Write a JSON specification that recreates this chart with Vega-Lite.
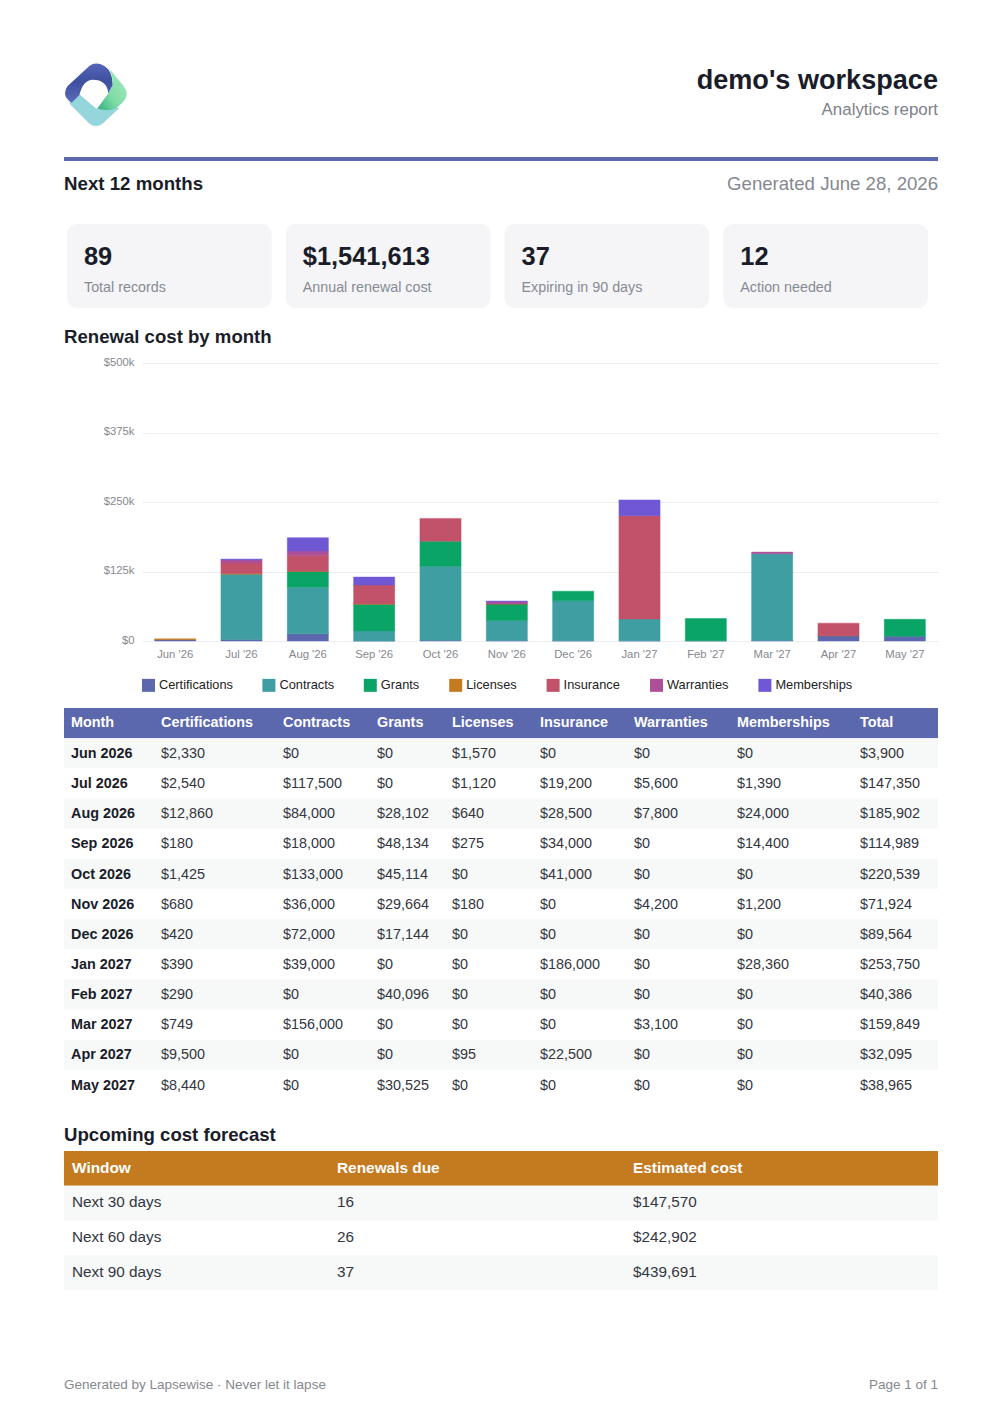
{
  "$schema": "https://vega.github.io/schema/vega-lite/v6.json",
  "padding": {"left": 62, "top": 0, "right": 62, "bottom": 0},
  "spacing": 0,
  "bounds": "flush",
  "config": {
    "font": "Liberation Sans",
    "view": {"stroke": null},
    "text": {"baseline": "middle", "align": "left"}
  },
  "datasets": {
    "months": [
      {"Month": "Jun 2026", "short": "Jun '26", "Certifications": 2330, "Contracts": 0, "Grants": 0, "Licenses": 1570, "Insurance": 0, "Warranties": 0, "Memberships": 0, "Total": 3900},
      {"Month": "Jul 2026", "short": "Jul '26", "Certifications": 2540, "Contracts": 117500, "Grants": 0, "Licenses": 1120, "Insurance": 19200, "Warranties": 5600, "Memberships": 1390, "Total": 147350},
      {"Month": "Aug 2026", "short": "Aug '26", "Certifications": 12860, "Contracts": 84000, "Grants": 28102, "Licenses": 640, "Insurance": 28500, "Warranties": 7800, "Memberships": 24000, "Total": 185902},
      {"Month": "Sep 2026", "short": "Sep '26", "Certifications": 180, "Contracts": 18000, "Grants": 48134, "Licenses": 275, "Insurance": 34000, "Warranties": 0, "Memberships": 14400, "Total": 114989},
      {"Month": "Oct 2026", "short": "Oct '26", "Certifications": 1425, "Contracts": 133000, "Grants": 45114, "Licenses": 0, "Insurance": 41000, "Warranties": 0, "Memberships": 0, "Total": 220539},
      {"Month": "Nov 2026", "short": "Nov '26", "Certifications": 680, "Contracts": 36000, "Grants": 29664, "Licenses": 180, "Insurance": 0, "Warranties": 4200, "Memberships": 1200, "Total": 71924},
      {"Month": "Dec 2026", "short": "Dec '26", "Certifications": 420, "Contracts": 72000, "Grants": 17144, "Licenses": 0, "Insurance": 0, "Warranties": 0, "Memberships": 0, "Total": 89564},
      {"Month": "Jan 2027", "short": "Jan '27", "Certifications": 390, "Contracts": 39000, "Grants": 0, "Licenses": 0, "Insurance": 186000, "Warranties": 0, "Memberships": 28360, "Total": 253750},
      {"Month": "Feb 2027", "short": "Feb '27", "Certifications": 290, "Contracts": 0, "Grants": 40096, "Licenses": 0, "Insurance": 0, "Warranties": 0, "Memberships": 0, "Total": 40386},
      {"Month": "Mar 2027", "short": "Mar '27", "Certifications": 749, "Contracts": 156000, "Grants": 0, "Licenses": 0, "Insurance": 0, "Warranties": 3100, "Memberships": 0, "Total": 159849},
      {"Month": "Apr 2027", "short": "Apr '27", "Certifications": 9500, "Contracts": 0, "Grants": 0, "Licenses": 95, "Insurance": 22500, "Warranties": 0, "Memberships": 0, "Total": 32095},
      {"Month": "May 2027", "short": "May '27", "Certifications": 8440, "Contracts": 0, "Grants": 30525, "Licenses": 0, "Insurance": 0, "Warranties": 0, "Memberships": 0, "Total": 38965}
    ],
    "columns": [
      {"col": "Month", "order": 0},
      {"col": "Certifications", "order": 1},
      {"col": "Contracts", "order": 2},
      {"col": "Grants", "order": 3},
      {"col": "Licenses", "order": 4},
      {"col": "Insurance", "order": 5},
      {"col": "Warranties", "order": 6},
      {"col": "Memberships", "order": 7},
      {"col": "Total", "order": 8}
    ],
    "forecast": [
      {"Window": "Next 30 days", "Renewals due": 16, "Estimated cost": 147570},
      {"Window": "Next 60 days", "Renewals due": 26, "Estimated cost": 242902},
      {"Window": "Next 90 days", "Renewals due": 37, "Estimated cost": 439691}
    ],
    "forecastColumns": [
      {"col": "Window", "order": 0},
      {"col": "Renewals due", "order": 1},
      {"col": "Estimated cost", "order": 2}
    ],
    "cards": [
      {"value": "89", "label": "Total records"},
      {"value": "$1,541,613", "label": "Annual renewal cost"},
      {"value": "37", "label": "Expiring in 90 days"},
      {"value": "12", "label": "Action needed"}
    ],
    "logo": [{"side": 1, "line": 1}]
  },
  "vconcat": [
    {
      "width": 874,
      "height": 224,
      "encoding": {
        "x": {"field": "side", "type": "quantitative", "axis": null, "scale": {"domain": [0, 1, 2], "range": [0, 32, 874]}},
        "y": {"field": "line", "type": "quantitative", "axis": null, "scale": {"domain": [0, 1, 2, 3, 4], "range": [80.5, 95, 110, 159, 183.5]}}
      },
      "layer": [
        {
          "data": {"name": "logo"},
          "mark": {"type": "point", "filled": true, "opacity": 1, "size": 16384, "color": "#94d6dc",
            "shape": "M-.26,-.01 L0,.21 L.37,.2 L.1,.45 Q0,.52 -.1,.45 L-.42,.13Z"}
        },
        {
          "data": {"name": "logo"},
          "mark": {"type": "point", "filled": true, "opacity": 1, "size": 16384,
            "color": {"gradient": "linear", "x1": 0, "y1": 1, "x2": 1, "y2": 0, "stops": [{"offset": 0, "color": "#2fae7e"}, {"offset": 0.4, "color": "#7fdca6"}, {"offset": 1, "color": "#a6ecc0"}]},
            "shape": "M.2,-.42 L.43,-.14 Q.53,-.02 .43,.1 L.33,.2 Q.2,.27 .02,.21 L.193,-.026 L.26,-.156 Q.27,-.3 .2,-.42Z"}
        },
        {
          "data": {"name": "logo"},
          "mark": {"type": "point", "filled": true, "opacity": 1, "size": 16384,
            "color": {"gradient": "linear", "x1": 0, "y1": 0, "x2": 0, "y2": 1, "stops": [{"offset": 0, "color": "#5565b8"}, {"offset": 0.45, "color": "#3f509f"}, {"offset": 1, "color": "#5a6abd"}]},
            "shape": "M-.484,-.026 Q-.48,-.1 -.443,-.141 L-.104,-.453 Q0,-.53 .13,-.453 Q.26,-.38 .26,-.156 L.193,-.026 Q.17,-.24 -.05,-.24 Q-.2,-.24 -.26,0 L-.38,.12 Q-.484,.06 -.484,-.026Z"}
        },
        {
          "data": {"values": [{"side": 0, "end": 2, "line": 3}]},
          "mark": {"type": "rule", "color": "#5c68ae", "strokeWidth": 4},
          "encoding": {"x2": {"field": "end"}}
        },
        {
          "data": {"values": [{"label": "demo's workspace", "side": 2, "line": 0}]},
          "mark": {"type": "text", "align": "right", "fontSize": 27.1, "fontWeight": "bold", "color": "#1a1d29"},
          "encoding": {"text": {"field": "label"}}
        },
        {
          "data": {"values": [{"label": "Analytics report", "side": 2, "line": 2}]},
          "mark": {"type": "text", "align": "right", "fontSize": 16.9, "color": "#7d818b"},
          "encoding": {"text": {"field": "label"}}
        },
        {
          "data": {"values": [{"label": "Generated June 28, 2026", "side": 2, "line": 4}]},
          "mark": {"type": "text", "align": "right", "fontSize": 18.6, "color": "#85888f"},
          "encoding": {"text": {"field": "label"}}
        },
        {
          "data": {"values": [{"label": "Next 12 months", "side": 0, "line": 4}]},
          "mark": {"type": "text", "fontSize": 18.7, "fontWeight": "bold", "color": "#1a1d29"},
          "encoding": {"text": {"field": "label"}}
        }
      ]
    },
    {
      "width": 874,
      "height": 139,
      "data": {"name": "cards"},
      "encoding": {
        "x": {"field": "label", "type": "nominal", "sort": null, "axis": null,
          "scale": {"type": "band", "range": [3, 864], "paddingInner": 0.0645, "paddingOuter": 0}}
      },
      "layer": [
        {
          "mark": {"type": "rect", "cornerRadius": 10, "color": "#f5f5f7"},
          "encoding": {
            "y": {"datum": 0, "type": "quantitative", "axis": null, "scale": {"domain": [0, 1, 2, 3], "range": [0, 32.6, 63.6, 84]}},
            "y2": {"datum": 3}
          }
        },
        {
          "mark": {"type": "text", "dx": 17, "fontSize": 25.4, "fontWeight": "bold", "color": "#1a1d29"},
          "encoding": {
            "x": {"field": "label", "type": "nominal", "sort": null, "bandPosition": 0},
            "y": {"datum": 1, "type": "quantitative"},
            "text": {"field": "value"}
          }
        },
        {
          "mark": {"type": "text", "dx": 17, "fontSize": 14.3, "color": "#868a94"},
          "encoding": {
            "x": {"field": "label", "type": "nominal", "sort": null, "bandPosition": 0},
            "y": {"datum": 2, "type": "quantitative"},
            "text": {"field": "label"}
          }
        }
      ]
    },
    {
      "width": 874,
      "height": 278,
      "title": {"text": "Renewal cost by month", "anchor": "start", "frame": "group", "fontSize": 18.6, "fontWeight": "bold", "color": "#1a1d29", "offset": 10},
      "data": {"name": "months"},
      "transform": [
        {"fold": ["Certifications", "Contracts", "Grants", "Licenses", "Insurance", "Warranties", "Memberships"], "as": ["category", "cost"]},
        {"filter": "datum.cost > 0"},
        {"lookup": "category", "from": {"data": {"name": "columns"}, "key": "col", "fields": ["order"]}}
      ],
      "mark": {"type": "bar", "strokeWidth": 1, "strokeOpacity": 0.45},
      "encoding": {
        "x": {"field": "short", "type": "nominal", "sort": null, "title": null,
          "scale": {"type": "band", "range": [78, 874], "paddingInner": 0.38, "paddingOuter": 0.19, "domain": ["Jun '26", "Jul '26", "Aug '26", "Sep '26", "Oct '26", "Nov '26", "Dec '26", "Jan '27", "Feb '27", "Mar '27", "Apr '27", "May '27"]},
          "axis": {"labelAngle": 0, "ticks": false, "domain": false, "labelFontSize": 11.3, "labelColor": "#85888f", "labelPadding": 7}},
        "y": {"field": "cost", "type": "quantitative", "title": null, "stack": "zero",
          "scale": {"domain": [0, 500000], "nice": false},
          "axis": {"values": [0, 125000, 250000, 375000, 500000], "labelExpr": "datum.value === 0 ? '$0' : format(datum.value, '$~s')", "offset": -78, "ticks": false, "domain": false, "labelFontSize": 11.3, "labelColor": "#85888f", "labelPadding": 8, "labelOffset": -0.7, "gridColor": "#eceef1"}},
        "order": {"field": "order"},
        "stroke": {"field": "category", "type": "nominal", "legend": null,
          "scale": {"domain": ["Certifications", "Contracts", "Grants", "Licenses", "Insurance", "Warranties", "Memberships"], "range": ["#5c68ae", "#3f9ea2", "#0aa566", "#c47a1e", "#c15269", "#ad5099", "#7057d4"]}},
        "color": {"field": "category", "type": "nominal", "title": null,
          "scale": {"domain": ["Certifications", "Contracts", "Grants", "Licenses", "Insurance", "Warranties", "Memberships"], "range": ["#5c68ae", "#3f9ea2", "#0aa566", "#c47a1e", "#c15269", "#ad5099", "#7057d4"]},
          "legend": {"orient": "none", "legendX": 78, "legendY": 678.5, "direction": "horizontal", "columns": 7, "columnPadding": 29.4, "symbolType": "square", "symbolSize": 169, "symbolStrokeWidth": 0, "labelFontSize": 12.8, "labelColor": "#222222", "labelOffset": 4}}
      }
    },
    {
      "width": 874,
      "height": 510,
      "encoding": {
        "x": {"field": "order", "type": "quantitative", "axis": null, "scale": {"domain": [0, 1, 2, 3, 4, 5, 6, 7, 8], "range": [7, 97, 219, 313, 388, 476, 570, 673, 796]}},
        "y": {"field": "Month", "type": "nominal", "axis": null, "sort": null,
          "scale": {"type": "band", "range": [67, 459], "paddingInner": 0, "paddingOuter": 0,
            "domain": ["Month", "Jun 2026", "Jul 2026", "Aug 2026", "Sep 2026", "Oct 2026", "Nov 2026", "Dec 2026", "Jan 2027", "Feb 2027", "Mar 2027", "Apr 2027", "May 2027"]}}
      },
      "layer": [
        {
          "data": {"values": [{"Month": "Month"}]},
          "mark": {"type": "rect", "color": "#5c68ae"},
          "encoding": {"x": null}
        },
        {
          "data": {"name": "months"},
          "transform": [{"filter": {"field": "Month", "oneOf": ["Jun 2026", "Aug 2026", "Oct 2026", "Dec 2026", "Feb 2027", "Apr 2027"]}}],
          "mark": {"type": "rect", "color": "#f7f8f8"},
          "encoding": {"x": null}
        },
        {
          "data": {"name": "columns"},
          "mark": {"type": "text", "fontSize": 14.4, "fontWeight": "bold", "color": "#ffffff", "dy": 0.2},
          "encoding": {"y": {"datum": "Month"}, "text": {"field": "col"}}
        },
        {
          "data": {"name": "months"},
          "transform": [
            {"fold": ["Month"], "as": ["col", "name"]},
            {"lookup": "col", "from": {"data": {"name": "columns"}, "key": "col", "fields": ["order"]}}
          ],
          "mark": {"type": "text", "fontSize": 14.4, "fontWeight": "bold", "color": "#1a1d29", "dy": 0.7},
          "encoding": {"text": {"field": "name"}}
        },
        {
          "data": {"name": "months"},
          "transform": [
            {"fold": ["Certifications", "Contracts", "Grants", "Licenses", "Insurance", "Warranties", "Memberships", "Total"], "as": ["col", "amount"]},
            {"lookup": "col", "from": {"data": {"name": "columns"}, "key": "col", "fields": ["order"]}}
          ],
          "mark": {"type": "text", "fontSize": 14.4, "color": "#33363f", "dy": 0.7},
          "encoding": {"text": {"field": "amount", "type": "quantitative", "format": "$,.0f"}}
        }
      ]
    },
    {
      "width": 874,
      "height": 224,
      "title": {"text": "Upcoming cost forecast", "anchor": "start", "frame": "group", "fontSize": 18.6, "fontWeight": "bold", "color": "#1a1d29", "offset": 6},
      "encoding": {
        "x": {"field": "order", "type": "quantitative", "axis": null, "scale": {"domain": [0, 1, 2], "range": [8, 273, 569]}},
        "y": {"field": "Window", "type": "nominal", "axis": null, "sort": null,
          "scale": {"type": "band", "range": [0, 139], "paddingInner": 0, "paddingOuter": 0,
            "domain": ["Window", "Next 30 days", "Next 60 days", "Next 90 days"]}}
      },
      "layer": [
        {
          "data": {"values": [{"Window": "Window"}]},
          "mark": {"type": "rect", "color": "#c47a1e"},
          "encoding": {"x": null}
        },
        {
          "data": {"name": "forecast"},
          "transform": [{"filter": {"field": "Window", "oneOf": ["Next 30 days", "Next 90 days"]}}],
          "mark": {"type": "rect", "color": "#f7f8f8"},
          "encoding": {"x": null}
        },
        {
          "data": {"name": "forecastColumns"},
          "mark": {"type": "text", "fontSize": 15.4, "fontWeight": "bold", "color": "#ffffff"},
          "encoding": {"y": {"datum": "Window"}, "text": {"field": "col"}}
        },
        {
          "data": {"name": "forecast"},
          "transform": [
            {"fold": ["Window"], "as": ["col", "name"]},
            {"lookup": "col", "from": {"data": {"name": "forecastColumns"}, "key": "col", "fields": ["order"]}}
          ],
          "mark": {"type": "text", "fontSize": 15.3, "color": "#33363f", "dy": -0.7},
          "encoding": {"text": {"field": "name"}}
        },
        {
          "data": {"name": "forecast"},
          "transform": [
            {"fold": ["Renewals due"], "as": ["col", "due"]},
            {"lookup": "col", "from": {"data": {"name": "forecastColumns"}, "key": "col", "fields": ["order"]}}
          ],
          "mark": {"type": "text", "fontSize": 15.3, "color": "#33363f", "dy": -0.7},
          "encoding": {"text": {"field": "due", "type": "quantitative"}}
        },
        {
          "data": {"name": "forecast"},
          "transform": [
            {"fold": ["Estimated cost"], "as": ["col", "cost"]},
            {"lookup": "col", "from": {"data": {"name": "forecastColumns"}, "key": "col", "fields": ["order"]}}
          ],
          "mark": {"type": "text", "fontSize": 15.3, "color": "#33363f", "dy": -0.7},
          "encoding": {"text": {"field": "cost", "type": "quantitative", "format": "$,.0f"}}
        }
      ]
    },
    {
      "width": 874,
      "height": 20,
      "encoding": {
        "x": {"field": "side", "type": "quantitative", "axis": null, "scale": {"domain": [0, 1], "range": [0, 874]}}
      },
      "layer": [
        {
          "data": {"values": [{"label": "Generated by Lapsewise · Never let it lapse", "side": 0}]},
          "mark": {"type": "text", "fontSize": 13.5, "color": "#85888f"},
          "encoding": {"text": {"field": "label"}}
        },
        {
          "data": {"values": [{"label": "Page 1 of 1", "side": 1}]},
          "mark": {"type": "text", "align": "right", "fontSize": 13.5, "color": "#85888f"},
          "encoding": {"text": {"field": "label"}}
        }
      ]
    }
  ]
}
